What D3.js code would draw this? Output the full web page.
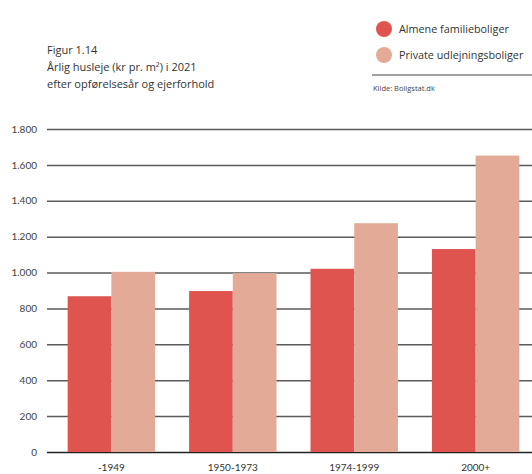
<!DOCTYPE html>
<html>
<head>
<meta charset="utf-8">
<script src="https://cdn.jsdelivr.net/npm/d3@7"></script>
<style>
  body { margin: 0; background: #fff; }
  svg { display: block; font-family: "Open Sans", sans-serif; }
</style>
</head>
<body>
<svg id="chart" width="532" height="474"></svg>
<script>
// data
const categories = ['-1949', '1950-1973', '1974-1999', '2000+']
const almene = [868, 897, 1021, 1131]
const private_ = [1004, 997, 1275, 1652]
const seriesNames = ['Almene familieboliger', 'Private udlejningsboliger']
const yTicks = [0, 200, 400, 600, 800, 1000, 1200, 1400, 1600, 1800]

const colors = ['#e0544f', '#e3ab97']
const width = 532
const height = 474
const margin = { top: 129, right: 0, bottom: 22, left: 47 }

const svg = d3.select('#chart')

const y = d3.scaleLinear()
  .domain([0, 1800])
  .range([height - margin.bottom, margin.top])

const x = d3.scaleBand()
  .domain(categories)
  .range([margin.left, 540])
  .paddingInner(0.28)
  .paddingOuter(0.17)

const xs = d3.scaleBand()
  .domain([0, 1])
  .range([0, x.bandwidth()])

// gridlines
const fmt = (d) => d3.format(',')(d).replace(/,/g, '.')
const yAxis = svg.append('g')
  .attr('transform', `translate(${margin.left},0)`)
  .call(d3.axisLeft(y).tickValues(yTicks).tickSize(-(width - margin.left)).tickPadding(10).tickFormat(fmt))
yAxis.select('.domain').remove()
yAxis.selectAll('.tick line')
  .attr('stroke', (d) => (d === 0 ? '#222' : '#5a5a5a'))
  .attr('stroke-width', 1.5)
yAxis.selectAll('.tick text')
  .attr('fill', '#444')
  .style('font-family', 'Lato, sans-serif')
  .style('font-size', '10px')

// bars
const groups = svg.append('g')
  .selectAll('g')
  .data(categories.map((c, i) => ({ c, vals: [almene[i], private_[i]] })))
  .join('g')
  .attr('transform', (d) => `translate(${x(d.c)},0)`)

groups.selectAll('rect')
  .data((d) => d.vals)
  .join('rect')
  .attr('x', (d, i) => xs(i))
  .attr('width', xs.bandwidth())
  .attr('y', (d) => y(d))
  .attr('height', (d) => y(0) - y(d))
  .attr('fill', (d, i) => colors[i])

// x labels
svg.append('g')
  .selectAll('text')
  .data(categories)
  .join('text')
  .attr('x', (d) => x(d) + x.bandwidth() / 2)
  .attr('y', 470.5)
  .attr('text-anchor', 'middle')
  .attr('fill', '#333')
  .style('font-family', 'Lato, sans-serif')
  .style('font-size', '10px')
  .text((d) => d)

// title
const title = svg.append('g').attr('fill', '#333').style('font-size', '11px')
title.append('text').attr('x', 47).attr('y', 54).text('Figur 1.14')
title.append('text').attr('x', 47).attr('y', 71).text('Årlig husleje (kr pr. m²) i 2021')
title.append('text').attr('x', 47).attr('y', 88).text('efter opførelsesår og ejerforhold')

// legend
const legend = svg.append('g')
  .selectAll('g')
  .data(seriesNames)
  .join('g')
  .attr('transform', (d, i) => `translate(384,${29 + i * 26})`)
legend.append('circle').attr('r', 8).attr('fill', (d, i) => colors[i])
legend.append('text')
  .attr('x', 15)
  .attr('dy', '0.35em')
  .attr('fill', '#333')
  .style('font-size', '10.8px')
  .text((d) => d)

svg.append('line')
  .attr('x1', 372).attr('x2', 532)
  .attr('y1', 75).attr('y2', 75)
  .attr('stroke', '#444').attr('stroke-width', 1.2)
svg.append('text')
  .attr('x', 373).attr('y', 91)
  .attr('fill', '#444')
  .style('font-size', '7.5px')
  .text('Kilde: Boligstat.dk')
</script>
</body>
</html>
